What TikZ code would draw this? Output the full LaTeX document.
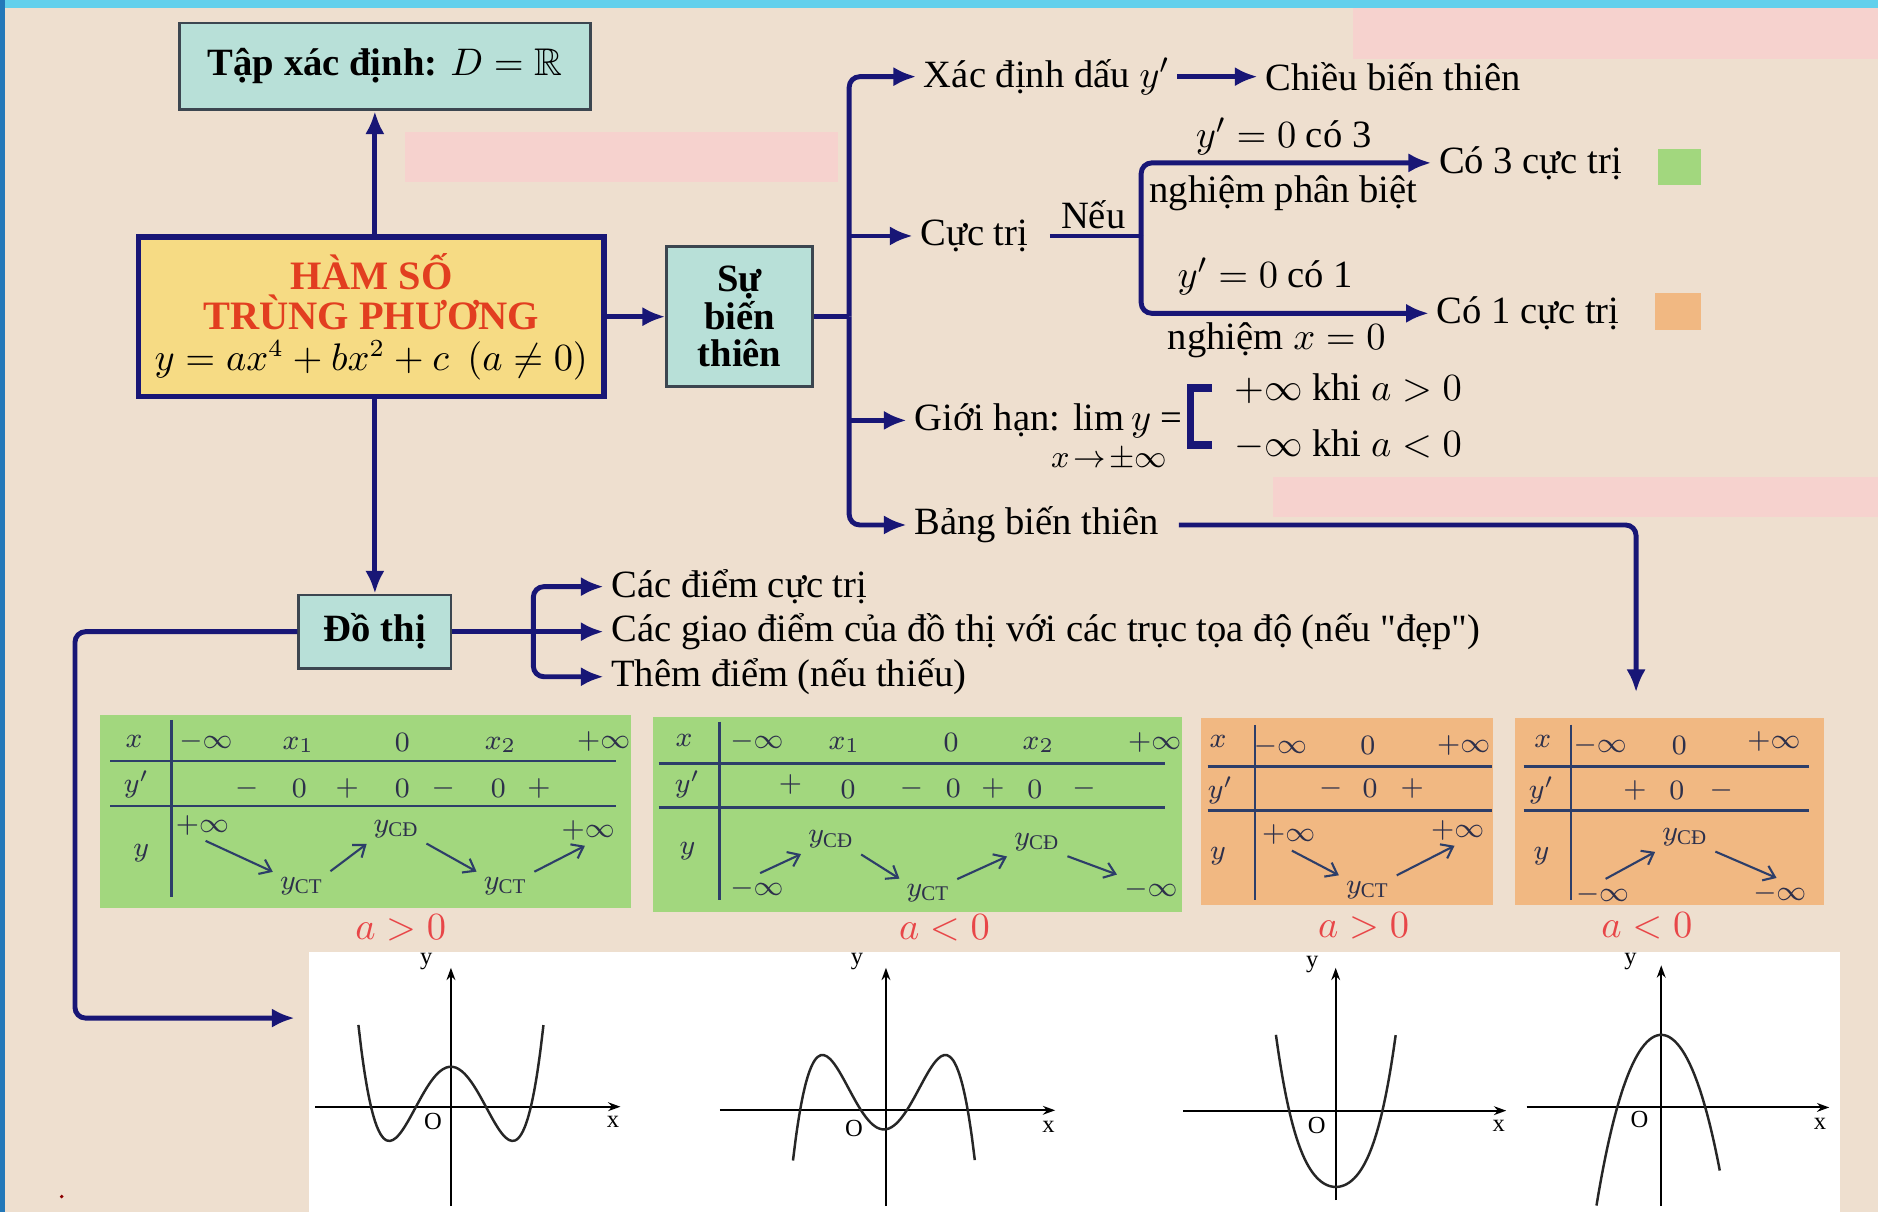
\documentclass[tikz,border=0pt]{standalone}
\usepackage{amsmath,amssymb}
\usepackage{fontspec}
\setmainfont{Liberation Serif}[Ligatures=TeXOff]
\usetikzlibrary{arrows.meta,positioning,calc}

\definecolor{bgbeige}{RGB}{238,223,207}
\definecolor{topcyan}{RGB}{98,208,236}
\definecolor{leftblue}{RGB}{35,120,185}
\definecolor{maskpink}{RGB}{246,210,206}
\definecolor{navy}{RGB}{24,22,118}
\definecolor{boxteal}{RGB}{184,224,216}
\definecolor{boxedge}{RGB}{60,70,80}
\definecolor{boxyellow}{RGB}{246,219,132}
\definecolor{hamred}{RGB}{226,62,32}
\definecolor{tabgreen}{RGB}{162,215,126}
\definecolor{taborange}{RGB}{241,184,130}
\definecolor{tabline}{RGB}{45,62,105}
\definecolor{tabtext}{RGB}{45,48,75}
\definecolor{labred}{RGB}{232,70,72}

\begin{document}
\begin{tikzpicture}[x=0.012cm,y=-0.012cm,
  flow/.style={navy, line width=1.4pt},
  flowarr/.style={flow, -{Latex[length=6.5pt,width=5.5pt]}},
  lbl/.style={font=\fontsize{11}{13}\selectfont, inner sep=2pt},
  tealbox/.style={draw=boxedge, line width=0.8pt, fill=boxteal, align=center,
    inner sep=0pt, font=\bfseries\fontsize{11}{10.7}\selectfont},
  tab/.style={font=\fontsize{8.5}{10}\selectfont, text=tabtext, inner sep=1pt},
  tabrule/.style={tabline, line width=0.8pt},
  varr/.style={tabline, line width=0.6pt, shorten <=1pt, shorten >=1pt,
    -{Straight Barb[length=3pt,width=4.5pt]}},
  alab/.style={font=\fontsize{11}{12}\selectfont, text=labred, inner sep=1pt},
  axisarr/.style={black, line width=0.6pt, -{Stealth[length=3.5pt,width=2.5pt]}},
  curve/.style={black!85, line width=0.7pt, smooth},
  glab/.style={font=\fontsize{7}{8}\selectfont, inner sep=0pt}]

\useasboundingbox (0,0) rectangle (1568,1012);

% background and masks
\fill[bgbeige] (0,0) rectangle (1568,1012);
\fill[topcyan] (0,0) rectangle (1568,7);
\fill[leftblue] (0,0) rectangle (4.5,1012);
\fill[maskpink] (338,110) rectangle (700,152);
\fill[maskpink] (1130,7) rectangle (1568,49);
\fill[maskpink] (1063,398) rectangle (1568,432);
\fill[red!55!black] (51.5,999) circle (1.6);

% main boxes
\node[tealbox, minimum width=4.11cm, minimum height=0.87cm] (tapxd) at (321.5,55.4)
  {Tập xác định: $D=\mathbb{R}$};
\node[draw=navy, line width=1.6pt, fill=boxyellow, minimum width=4.66cm, minimum height=1.6cm,
  align=center, inner sep=0pt, font=\bfseries\fontsize{11.5}{11.5}\selectfont] (hamso) at (310,264.4)
  {\textcolor{hamred}{HÀM SỐ}\\\textcolor{hamred}{TRÙNG PHƯƠNG}\\
   \mdseries\fontsize{10.5}{11.5}\selectfont $y = ax^4 + bx^2 + c\ \ (a\neq 0)$};
\node[tealbox, minimum width=1.46cm, minimum height=1.4cm] (sbt) at (617.5,264.4) {Sự\\biến\\thiên};
\node[tealbox, minimum width=1.525cm, minimum height=0.734cm] (dothi) at (313,527.4) {Đồ thị};

\draw[flowarr] (hamso.north -| dothi) -- (tapxd.south -| dothi);
\draw[flowarr] (hamso.east) -- (sbt.west);
\draw[flowarr] (hamso.south -| dothi) -- (dothi.north);

% su bien thien branches
\coordinate (jt) at (709,264.4);
\node[lbl, anchor=west] (xdd) at (765,64) {Xác định dấu $y'$};
\node[lbl, anchor=west] (cbt) at (1050,64) {Chiều biến thiên};
\node[lbl, anchor=west] (ctri) at (762,197) {Cực trị};
\node[lbl, anchor=west] (gh) at (757,351) {Giới hạn: $\lim y$ =};
\node[font=\fontsize{9.5}{11}\selectfont, inner sep=0.5pt] (ghx) at (926,384) {$x\!\rightarrow\!\pm\infty$};
\node[lbl, anchor=west] (bbt) at (757,438.3) {Bảng biến thiên};

\draw[flow] (sbt.east) -- (jt);
\draw[flowarr, rounded corners=3pt] (jt) |- (xdd.west);
\draw[flowarr] (jt |- ctri.west) -- (ctri.west);
\draw[flowarr] (jt |- gh.west) -- (gh.west);
\draw[flowarr, rounded corners=3pt] (jt) |- (bbt.west);
\draw[flowarr] (xdd.east) -- (cbt.west);

% cuc tri
\coordinate (jn) at (952.8,197);
\node[lbl] (neu) at (912.8,179.5) {Nếu};
\node[lbl, anchor=west] (co3) at (1195,136) {Có 3 cực trị};
\node[lbl, anchor=west] (co1) at (1193,261.6) {Có 1 cực trị};
\node[lbl] (c3a) at (1071.7,114) {$y'=0$ có 3};
\node[lbl] (c3b) at (1071.6,161.4) {nghiệm phân biệt};
\node[lbl] (c1a) at (1056.5,231) {$y'=0$ có 1};
\node[lbl] (c1b) at (1066,283.9) {nghiệm $x=0$};
\fill[tabgreen] (1384,124) rectangle (1420,154.5);
\fill[taborange] (1382,245) rectangle (1420,275.5);

\draw[flow, shorten <=4pt] (ctri.east) -- (jn);
\draw[flowarr, rounded corners=3pt] (jn) |- (co3.west);
\draw[flowarr, rounded corners=3pt] (jn) |- (co1.west);

% gioi han
\node[lbl, anchor=west] (pinf) at (1024,324.2) {$+\infty$ khi $a>0$};
\node[lbl, anchor=west] (minf) at (1024,371.5) {$-\infty$ khi $a<0$};
\draw[navy, line width=2.2pt] ($(pinf.west)+(-12,0)$) -| ($(minf.west)+(-30,0)$) -- ($(minf.west)+(-12,0)$);

% bang bien thien
\coordinate (bbtend) at (1366,578);
\draw[flowarr, rounded corners=3pt, shorten <=3.5pt] (bbt.east) -| (bbtend);

% do thi
\coordinate (jd) at (445.3,527.4);
\coordinate (dl) at (62.6,700);
\coordinate (grend) at (246,850);
\node[lbl, anchor=west] (cd) at (504,489.8) {Các điểm cực trị};
\node[lbl, anchor=west] (gd) at (504,527.4) {Các giao điểm của đồ thị với các trục tọa độ (nếu "đẹp")};
\node[lbl, anchor=west] (them) at (504,565) {Thêm điểm (nếu thiếu)};

\draw[flowarr, rounded corners=3pt] (dothi.west) -| (dl) |- (grend);
\draw[flow] (dothi.east) -- (jd);
\draw[flowarr, rounded corners=3pt] (jd) |- (cd.west);
\draw[flowarr] (jd) -- (gd.west);
\draw[flowarr, rounded corners=3pt] (jd) |- (them.west);

% table 1: a>0, three extrema
\fill[tabgreen] (83.5,597) rectangle (526.5,758.4);
\draw[tabrule] (92,635.4) -- (514.5,635.4);
\draw[tabrule] (92,673) -- (514.5,673);
\draw[tabrule] (143,601) -- (143,748.7);
\foreach \px/\py/\tx [count=\k] in {112/619/x, 172/619/-\infty, 249/622/x_1, 336/620/0,
  418/622/x_2, 504/619/+\infty, 114/655/y', 206/658/-, 250/658/0, 290/658/+, 336/658/0,
  370/658/-, 416/658/0, 450/658/+, 118/712/y, 169/689/+\infty, 331/692/y_{\text{CĐ}},
  491/693/+\infty, 252/740/y_{\text{CT}}, 422/740/y_{\text{CT}}}
  \node[tab] (ta\k) at (\px,\py) {$\tx$};
\draw[varr] (ta16.south) -- (ta19.north west);
\draw[varr] (ta19.north east) -- (ta17.south west);
\draw[varr] (ta17.south east) -- (ta20.north west);
\draw[varr] (ta20.north east) -- (ta18.south);

% table 2: a<0, three extrema
\fill[tabgreen] (545.4,598.4) rectangle (986.7,761.2);
\draw[tabrule] (550,637.3) -- (973,637.3);
\draw[tabrule] (550,674) -- (973,674);
\draw[tabrule] (600.6,602.5) -- (600.6,751.4);
\foreach \px/\py/\tx [count=\k] in {571/618/x, 632/619/-\infty, 705/622/x_1, 794/620/0,
  867/622/x_2, 964/620/+\infty, 574/655/y', 660/655/+, 708/659/0, 761/658/-, 796/658/0,
  829/658/+, 864/659/0, 905/658/-, 574/711/y, 694/701/y_{\text{CĐ}}, 866/703/y_{\text{CĐ}},
  632/742/-\infty, 775/746/y_{\text{CT}}, 961/743/-\infty}
  \node[tab] (tb\k) at (\px,\py) {$\tx$};
\draw[varr] (tb18.north) -- (tb16.south west);
\draw[varr] (tb16.south east) -- (tb19.north west);
\draw[varr] (tb19.north east) -- (tb17.south west);
\draw[varr] (tb17.south east) -- (tb20.north west);

% table 3: a>0, one extremum
\fill[taborange] (1002.8,599.8) rectangle (1246.4,755.6);
\draw[tabrule] (1008.3,640) -- (1246,640);
\draw[tabrule] (1008.3,677) -- (1246,677);
\draw[tabrule] (1047.8,605.3) -- (1047.8,751.4);
\foreach \px/\py/\tx [count=\k] in {1017/619/x, 1069/623/-\infty, 1142/622/0, 1222/622/+\infty,
  1019/660/y', 1111/658/-, 1144/658/0, 1179/658/+, 1017/715/y, 1076/697/+\infty,
  1217/693/+\infty, 1142/743/y_{\text{CT}}}
  \node[tab] (tc\k) at (\px,\py) {$\tx$};
\draw[varr] (tc10.south) -- (tc12.north west);
\draw[varr] (tc12.north east) -- (tc11.south);

% table 4: a<0, one extremum
\fill[taborange] (1264.7,599.8) rectangle (1523,755.6);
\draw[tabrule] (1272,640) -- (1510,640);
\draw[tabrule] (1272,677) -- (1510,677);
\draw[tabrule] (1311.6,605) -- (1311.6,751);
\foreach \px/\py/\tx [count=\k] in {1288/619/x, 1336/622/-\infty, 1402/622/0, 1481/619/+\infty,
  1287/660/y', 1365/660/+, 1400/660/0, 1437/660/-, 1287/715/y, 1407/699/y_{\text{CĐ}},
  1338/747/-\infty, 1486/746/-\infty}
  \node[tab] (td\k) at (\px,\py) {$\tx$};
\draw[varr] (td11.north) -- (td10.south west);
\draw[varr] (td10.south east) -- (td12.north);

\node[alab] (la1) at (334.5,775) {$a>0$};
\node[alab] (la2) at (788.5,775) {$a<0$};
\node[alab] (la3) at (1138.5,773) {$a>0$};
\node[alab] (la4) at (1375,773) {$a<0$};

% graphs
\fill[white] (258,795) rectangle (1536,1012);

\draw[axisarr] (263,924) -- (518,924);
\draw[axisarr] (376.5,1007) -- (376.5,808);
\draw[curve] plot[domain=-1.5:1.5, samples=60] ({376.5+51.5*\x},{890.6+62*(2*\x*\x-\x*\x*\x*\x)});
\node[glab] (g1y) at (356,803) {y};
\node[glab] (g1o) at (361.6,936.5) {O};
\node[glab] (g1x) at (511.8,936.5) {x};

\draw[axisarr] (601,927) -- (881,927);
\draw[axisarr] (739.7,1007) -- (739.7,808);
\draw[curve] plot[domain=-1.48:1.48, samples=60] ({738+51.3*\x},{943-62.2*(2*\x*\x-\x*\x*\x*\x)});
\node[glab] (g2y) at (715.6,803) {y};
\node[glab] (g2o) at (713,941.8) {O};
\node[glab] (g2x) at (875.4,940.7) {x};

\draw[axisarr] (988,927.3) -- (1257.6,927.3);
\draw[axisarr] (1115.2,1002) -- (1115.2,808);
\draw[curve] plot[domain=-1:1, samples=50] ({1115.3+50*\x},{991-71.4*\x*\x-55.6*\x*\x*\x*\x});
\node[glab] (g3y) at (1095.6,805) {y};
\node[glab] (g3o) at (1099.4,939.3) {O};
\node[glab] (g3x) at (1251.3,940) {x};

\draw[axisarr] (1274.7,924.6) -- (1527.3,924.6);
\draw[axisarr] (1387,1007) -- (1387,806);
\draw[curve] plot[domain=-1.05:0.95, samples=50] ({1387+51.5*\x},{864+109.8*\x*\x+17.7*\x*\x*\x*\x});
\node[glab] (g4y) at (1361.3,803) {y};
\node[glab] (g4o) at (1368.9,935) {O};
\node[glab] (g4x) at (1519.6,938) {x};

\end{tikzpicture}
\end{document}
